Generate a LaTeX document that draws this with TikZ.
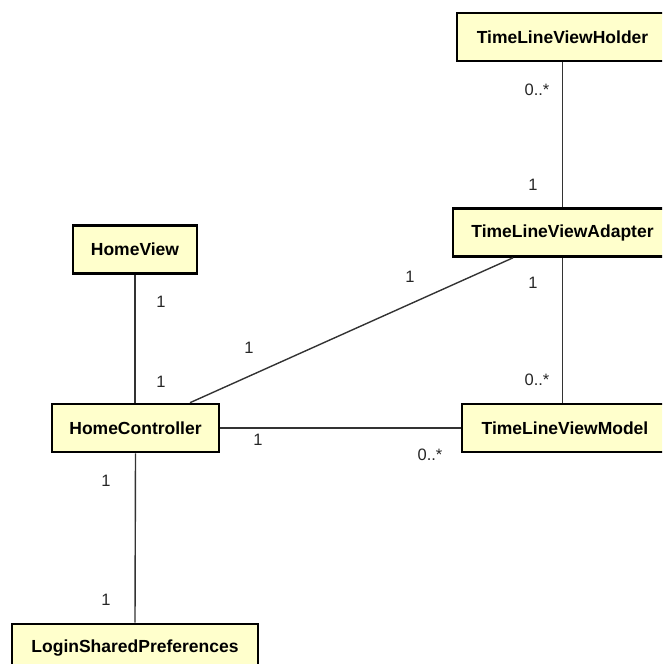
\documentclass[tikz,border=0pt]{standalone}
\usepackage{fontspec}
\setmainfont{Liberation Sans}
\begin{document}
\begin{tikzpicture}[x=1pt,y=-1pt,
  cls/.style={draw=black,line width=2.6pt,fill=umlfill,inner sep=0pt,
    font=\fontsize{17.5}{20}\selectfont\bfseries,minimum height=48pt},
  assoc/.style={draw=black!80,line width=1.4pt},
  mult/.style={font=\fontsize{16.5}{19}\selectfont,text=black!85,inner sep=0pt}]
\definecolor{umlfill}{HTML}{FFFFCC}
\useasboundingbox (0,0) rectangle (662,664);
\clip (0,0) rectangle (662,664);
\node[cls,minimum width=211pt] (holder) at (562.5,37) {TimeLineViewHolder};
\node[cls,minimum width=219pt] (adapter) at (562.5,232.5) {TimeLineViewAdapter};
\node[cls,minimum width=124pt] (hv) at (135,249.5) {HomeView};
\node[cls,minimum width=167pt] (hc) at (135.5,428) {HomeController};
\node[cls,minimum width=206pt] (model) at (565,428) {TimeLineViewModel};
\node[cls,minimum width=246pt] (login) at (135,648) {LoginSharedPreferences};
% connectors
\draw[assoc] (holder.south) -- (adapter.north);
\draw[assoc] (adapter.south) -- (adapter.south |- model.north);
\draw[assoc] (hv.south) -- (hv.south |- hc.north);
\draw[assoc] (hc.south) -- (login.north);
\draw[assoc] (hc.east) -- (model.west);
\draw[assoc] ([xshift=54.5pt]hc.north) -- ([xshift=-49.5pt]adapter.south);
% multiplicities
\node[mult] (m1) at (537,90) {0..*};
\node[mult] (m2) at (533,185) {1};
\node[mult] (m3) at (533,283) {1};
\node[mult] (m4) at (537,380) {0..*};
\node[mult] (m5) at (161,302) {1};
\node[mult] (m6) at (161,382) {1};
\node[mult] (m7) at (410,277) {1};
\node[mult] (m8) at (249,348) {1};
\node[mult] (m9) at (258,440) {1};
\node[mult] (m10) at (430,455) {0..*};
\node[mult] (m11) at (106,481) {1};
\node[mult] (m12) at (106,600) {1};
\end{tikzpicture}
\end{document}
